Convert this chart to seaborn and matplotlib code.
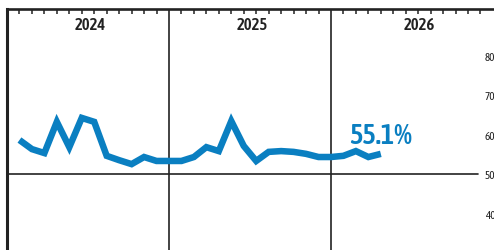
import matplotlib
matplotlib.use("Agg")
import matplotlib.pyplot as plt
import matplotlib.transforms as mtransforms
import seaborn as sns
import pandas as pd

# ---- data (4-week periods, 13 per year, starting Jan 2024 = period 0) ----
periods = list(range(1, 31))
values = [58.6, 56.3, 55.3, 63.2, 56.8, 64.2, 63.2, 54.6, 53.5, 52.5,
          54.3, 53.3, 53.3, 53.3, 54.3, 56.8, 55.8, 63.4, 57.1, 53.3,
          55.6, 55.8, 55.6, 55.1, 54.3, 54.3, 54.6, 55.8, 54.3, 55.1]
year_labels = ["2024", "2025", "2026"]
year_label_pos = [6.7, 19.65, 33.1]
year_bounds = [13, 26]
ytick_vals = [40, 50, 60, 70, 80]

df = pd.DataFrame({"period": periods, "value": values})

BLUE = "#0a7fc1"
DARK = "#222222"

sns.set_style("white")
plt.rcParams["font.family"] = ["Asap Condensed", "DejaVu Sans"]

W, H = 494, 251
fig = plt.figure(figsize=(W / 100, H / 100), dpi=100)
left_px, top_px = 7, 10
ax = fig.add_axes([left_px / W, 0, (W - left_px) / W, (H - top_px) / H])

px_per_period = 12.46
px_per_unit = 3.95
y50_px = 175
ax.set_xlim(0, (W - left_px) / px_per_period)
ax.set_ylim(50 - (H - y50_px) / px_per_unit, 50 + (y50_px - top_px) / px_per_unit)

sns.lineplot(data=df, x="period", y="value", color=BLUE, lw=4.7, ax=ax,
             solid_joinstyle="miter", solid_capstyle="butt")

for xb in year_bounds:
    ax.axvline(xb, color=DARK, lw=1.2, zorder=1)
ax.axhline(50, xmin=0, xmax=(478 - left_px) / (W - left_px), color=DARK, lw=1.2, zorder=1)

for s in ["right", "bottom"]:
    ax.spines[s].set_visible(False)
ax.spines["top"].set_linewidth(1.9)
ax.spines["top"].set_color(DARK)
ax.spines["left"].set_linewidth(2.2)
ax.spines["left"].set_color(DARK)

ax.xaxis.tick_top()
ax.set_xticks([i for i in range(1, 39) if i % 13])
ax.tick_params(axis="x", direction="in", length=3.5, width=1.1, color=DARK,
               labeltop=False, labelbottom=False, top=True, bottom=False)
ax.yaxis.tick_right()
ax.set_yticks(ytick_vals)
ax.set_yticklabels([str(v) for v in ytick_vals])
ax.tick_params(axis="y", length=0, pad=-6.6, labelsize=8, labelcolor=DARK,
               left=False, right=True)
ax.set_xlabel("")
ax.set_ylabel("")

trans = mtransforms.blended_transform_factory(ax.transData, ax.transAxes)
for lab, xp in zip(year_labels, year_label_pos):
    ax.text(xp, (H - 25) / (H - top_px), lab, transform=trans, ha="center",
            va="center", fontsize=12, fontweight="semibold", color=DARK)

ax.annotate(f"{values[-1]}%", xy=(periods[-1], values[-1]), xytext=(0, 7.5),
            textcoords="offset points", ha="center", va="baseline",
            fontsize=20.5, fontweight="semibold", color=BLUE)

fig.savefig("out.png", dpi=100)
